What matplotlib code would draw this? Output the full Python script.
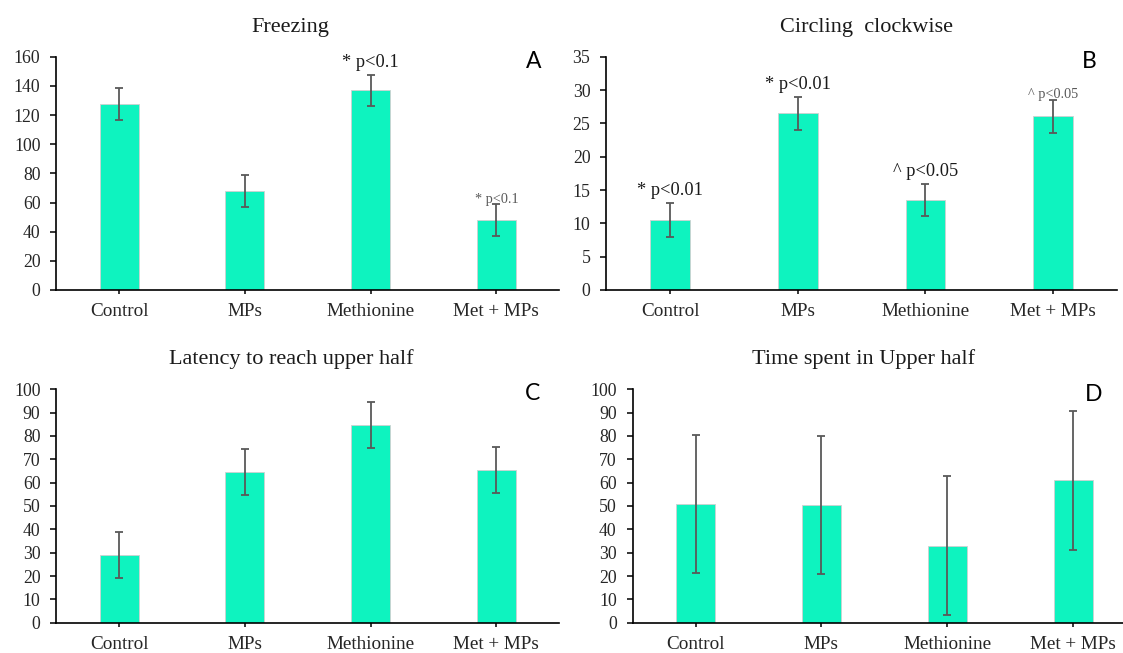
#!/usr/bin/env python3

import matplotlib.pyplot as plt
import numpy as np

plt.rcParams['font.family'] = ['Liberation Serif', 'DejaVu Serif']

W, H = 1123, 653

groups = ["Control", "MPs", "Methionine", "Met + MPs"]

freezing = [127.4, 68, 137, 47.8]
freezing_err = [11, 10.9, 10.5, 11]

circling = [10.5, 26.5, 13.5, 26.05]
circling_err = [2.5, 2.45, 2.45, 2.45]

latency = [28.9, 64.6, 84.7, 65.3]
latency_err = [9.8, 10, 10, 9.8]

upper_time = [50.9, 50.4, 32.9, 61]
upper_time_err = [29.7, 29.7, 29.8, 29.8]

# (text, group index, big label?)
freezing_notes = [("* p<0.1", 2, True), ("* p<0.1", 3, False)]
circling_notes = [("* p<0.01", 0, True), ("* p<0.01", 1, True),
                  ("^ p<0.05", 2, True), ("^ p<0.05", 3, False)]

BAR = "#0ef3bf"
ERR = "#595959"


def px_axes(fig, left, right, top, bottom):
    return fig.add_axes([left / W, (H - bottom) / H, (right - left) / W, (bottom - top) / H])


def draw_panel(ax, vals, errs, ymax, ystep, notes):
    x = np.arange(len(groups))
    ax.bar(x, vals, width=0.31, color=BAR, edgecolor="#d0d0d0", linewidth=0.6, zorder=2)
    ax.errorbar(x, vals, yerr=errs, fmt="none", ecolor=ERR, elinewidth=1.3,
                capsize=2.9, capthick=1.3, zorder=3)
    ax.set_xlim(-0.5, len(groups) - 0.5)
    ax.set_ylim(0, ymax)
    ax.set_yticks(np.arange(0, ymax + ystep / 2, ystep))
    ax.set_xticks(x)
    ax.set_xticklabels(groups)
    for side in ["top", "right"]:
        ax.spines[side].set_visible(False)
    for side in ["left", "bottom"]:
        ax.spines[side].set_linewidth(1.2)
        ax.spines[side].set_color("black")
    ax.tick_params(axis="y", direction="out", length=4, width=1.1, pad=7.5,
                   labelsize=12.8, labelcolor="#262626")
    ax.tick_params(axis="x", direction="out", length=3, width=1.1, pad=6.5,
                   labelsize=13.8, labelcolor="#262626")
    for text, i, big in notes:
        top = vals[i] + errs[i]
        if big:
            ax.annotate(text, (i, top), xytext=(0, 3), textcoords="offset points",
                        ha="center", va="bottom", fontsize=13.2, color="#1a1a1a")
        else:
            ax.annotate(text, (i, top), xytext=(0, -1), textcoords="offset points",
                        ha="center", va="bottom", fontsize=10.3, color="#595959")


fig = plt.figure(figsize=(W / 100, H / 100), dpi=100)

ax_a = px_axes(fig, 56.4, 559.2, 56.7, 290)
ax_b = px_axes(fig, 606.4, 1116.7, 56.7, 290)
ax_c = px_axes(fig, 56.4, 559.2, 389.3, 622.7)
ax_d = px_axes(fig, 632.7, 1136, 389.3, 622.7)

draw_panel(ax_a, freezing, freezing_err, 160, 20, freezing_notes)
draw_panel(ax_b, circling, circling_err, 35, 5, circling_notes)
draw_panel(ax_c, latency, latency_err, 100, 10, [])
draw_panel(ax_d, upper_time, upper_time_err, 100, 10, [])

titles = [("Freezing", 290, 32.3), ("Circling  clockwise", 867, 32.3),
          ("Latency to reach upper half", 291, 364.3), ("Time spent in Upper half", 863.6, 364.3)]
for t, x, y in titles:
    fig.text(x / W, (H - y) / H, t, ha="center", va="baseline", fontsize=16, color="#1a1a1a")

letters = [("A", 534, 68.3), ("B", 1089.6, 68.3), ("C", 533, 400), ("D", 1093.7, 400.7)]
for t, x, y in letters:
    fig.text(x / W, (H - y) / H, t, ha="center", va="baseline", fontsize=16.5,
             family=["Lato", "DejaVu Sans"], color="black")

plt.savefig("out.png", dpi=100)
